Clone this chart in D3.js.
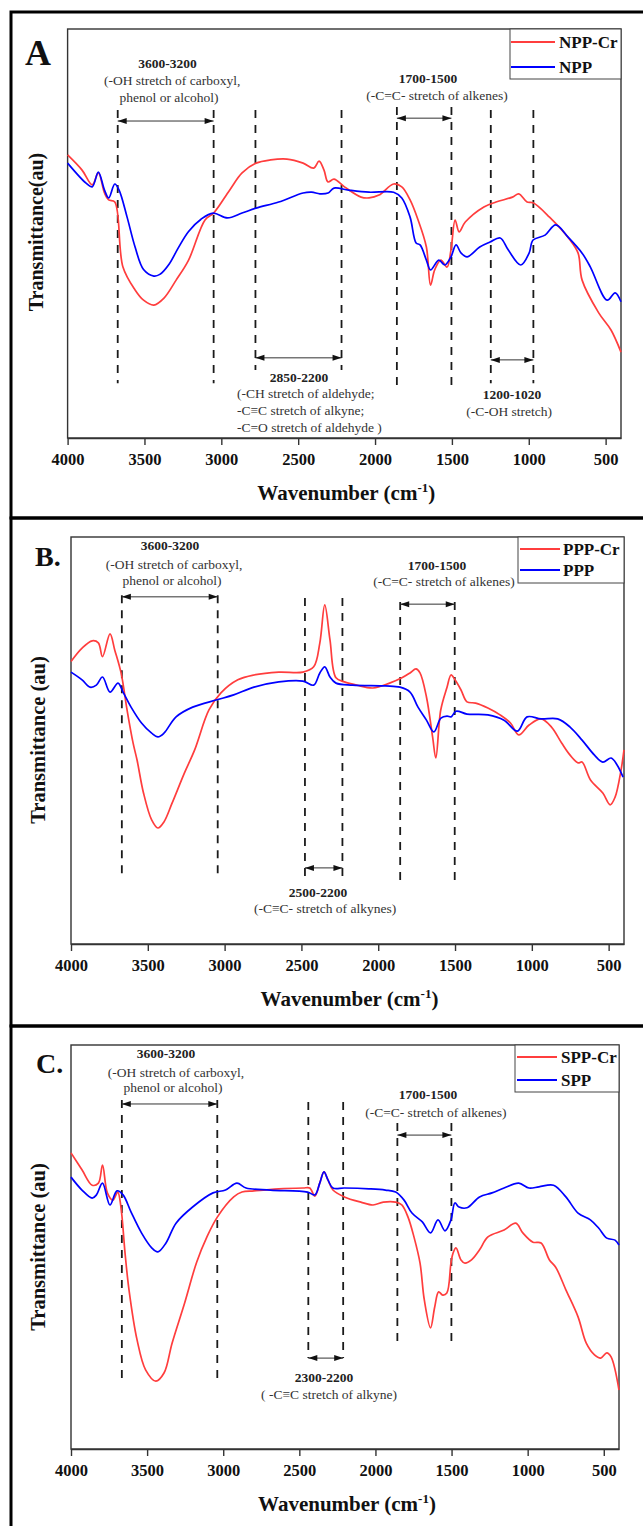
<!DOCTYPE html>
<html>
<head>
<meta charset="utf-8">
<script src="https://cdn.jsdelivr.net/npm/d3@7"></script>
<style>
  body { margin: 0; background: #fff; }
  text { font-family: "Liberation Serif", "Times New Roman", serif; }
</style>
</head>
<body>
<div class="main_area"></div>
<script>
// ---- data (wavenumber cm-1, transmittance in arbitrary units 0-100) ----
const wnTicks = [4000, 3500, 3000, 2500, 2000, 1500, 1000, 500];

const nppCr = [[4000,69.2],[3906,65.5],[3840,61.9],[3800,64.8],[3760,59.9],[3733,58.2],[3693,57.7],[3640,41.8],[3561,36.2],[3506,33.7],[3439,32.5],[3373,34.2],[3294,38.6],[3213,43.5],[3106,53.3],[3050,55.0],[2946,60.6],[2865,64.8],[2774,67.2],[2679,68.0],[2573,68.2],[2468,67.2],[2399,66.0],[2364,67.7],[2332,65.5],[2306,62.6],[2267,63.3],[2199,61.4],[2091,58.9],[2039,58.7],[1974,59.4],[1879,62.1],[1826,61.4],[1772,58.2],[1720,53.3],[1666,46.7],[1639,37.4],[1612,41.1],[1572,43.5],[1532,41.8],[1506,46.0],[1479,53.3],[1453,50.4],[1413,52.8],[1292,56.5],[1213,57.7],[1106,58.9],[1065,59.7],[1011,57.7],[972,57.5],[865,54.0],[731,48.4],[679,45.2],[653,38.6],[545,30.6],[465,26.4],[400,21.0]];
const npp = [[4000,67.2],[3880,62.3],[3840,61.4],[3800,65.0],[3760,60.6],[3733,58.7],[3693,62.1],[3665,60.6],[3613,54.0],[3561,46.7],[3506,41.2],[3439,39.6],[3400,40.0],[3340,42.5],[3280,46.5],[3213,50.5],[3132,53.5],[3053,55.0],[2960,53.8],[2865,55.0],[2774,56.2],[2627,57.7],[2468,59.9],[2412,60.1],[2359,59.7],[2306,59.9],[2267,61.1],[2172,60.6],[2039,60.1],[1879,60.1],[1826,58.7],[1772,54.0],[1733,47.7],[1707,47.2],[1666,43.5],[1639,41.1],[1585,43.5],[1546,42.3],[1506,44.3],[1473,47.2],[1440,45.2],[1401,44.3],[1319,46.7],[1252,47.9],[1186,48.9],[1134,46.0],[1052,42.3],[998,45.2],[972,48.4],[894,49.6],[825,52.1],[744,49.1],[653,45.2],[599,41.8],[490,33.7],[438,35.5],[400,33.3]];

const pppCr = [[4000,69.4],[3928,72.7],[3862,74.5],[3822,74.0],[3795,70.6],[3746,76.2],[3715,72.2],[3674,66.6],[3635,57.5],[3596,49.4],[3570,45.2],[3528,37.1],[3475,30.5],[3434,28.5],[3395,30.0],[3342,34.6],[3262,42.0],[3195,47.7],[3102,57.5],[3024,61.7],[2914,64.9],[2809,66.1],[2647,66.8],[2490,66.8],[2420,68.1],[2380,74.0],[2348,83.3],[2314,74.7],[2275,65.4],[2220,64.4],[2140,63.6],[2034,62.9],[1926,64.1],[1846,65.4],[1793,66.6],[1754,67.6],[1728,66.6],[1686,60.7],[1646,50.9],[1625,45.7],[1593,57.5],[1552,63.1],[1526,66.1],[1500,64.9],[1461,62.4],[1422,59.5],[1366,59.2],[1286,58.0],[1207,56.3],[1139,54.3],[1085,51.4],[1018,53.8],[940,55.3],[872,53.3],[806,49.4],[751,46.4],[699,44.5],[673,44.7],[618,40.3],[538,37.1],[490,34.2],[458,36.1],[419,42.8],[400,47.7]];
const ppp = [[4000,66.8],[3928,64.9],[3876,63.1],[3835,63.6],[3795,65.6],[3746,61.9],[3694,64.1],[3661,61.9],[3609,58.2],[3541,54.3],[3475,51.8],[3434,50.9],[3395,51.8],[3316,55.8],[3208,58.2],[3050,60.0],[2941,61.2],[2809,63.1],[2647,64.4],[2490,64.6],[2420,63.6],[2380,66.6],[2348,68.1],[2314,65.6],[2275,64.1],[2166,63.6],[1953,63.4],[1858,63.1],[1793,61.9],[1741,58.2],[1686,55.0],[1638,52.1],[1592,55.5],[1552,56.0],[1526,55.8],[1493,57.2],[1422,56.5],[1286,56.3],[1181,55.0],[1094,52.3],[1031,55.8],[940,55.3],[832,55.3],[751,53.3],[673,50.1],[592,46.4],[538,44.7],[484,45.7],[445,44.0],[406,41.0]];

const sppCr = [[4000,73.3],[3928,69.1],[3861,65.3],[3820,65.8],[3793,70.3],[3761,63.4],[3725,61.6],[3693,63.6],[3672,59.9],[3645,48.5],[3619,39.4],[3566,27.0],[3510,19.6],[3443,16.8],[3389,18.8],[3336,26.2],[3254,36.1],[3174,46.3],[3107,52.5],[3039,57.4],[2931,62.4],[2877,63.6],[2798,63.9],[2635,64.4],[2476,64.6],[2432,64.6],[2398,62.6],[2366,65.8],[2338,68.6],[2312,66.6],[2279,64.1],[2204,62.4],[2096,61.1],[2016,60.4],[1948,61.1],[1867,61.1],[1827,60.4],[1786,57.4],[1747,52.5],[1707,46.0],[1679,36.9],[1638,30.0],[1611,35.1],[1585,38.9],[1558,38.1],[1531,38.6],[1504,46.0],[1490,48.5],[1471,49.8],[1438,46.8],[1412,46.0],[1369,46.8],[1316,49.3],[1261,52.5],[1155,54.2],[1078,55.9],[1032,53.5],[965,51.2],[912,51.0],[857,46.8],[816,45.0],[749,39.4],[669,32.7],[615,26.2],[561,23.3],[520,22.5],[480,23.8],[452,22.8],[400,14.6]];
const spp = [[4000,67.3],[3928,64.1],[3861,62.1],[3833,62.9],[3793,65.8],[3744,60.4],[3698,63.9],[3658,62.9],[3606,58.7],[3537,53.5],[3470,49.8],[3429,48.8],[3376,51.0],[3310,55.9],[3201,59.9],[3067,63.4],[2985,64.1],[2910,65.8],[2850,64.6],[2689,64.1],[2446,63.6],[2398,62.9],[2366,65.8],[2338,68.6],[2312,66.6],[2279,64.6],[2204,64.6],[2042,64.4],[1935,64.1],[1867,63.6],[1812,61.6],[1760,58.4],[1692,56.2],[1638,53.5],[1589,56.7],[1543,54.0],[1504,56.7],[1478,60.9],[1451,59.9],[1399,59.7],[1316,62.4],[1234,63.4],[1155,64.6],[1059,65.8],[991,64.6],[926,64.9],[830,65.3],[749,62.4],[669,58.4],[588,56.7],[534,54.7],[480,52.2],[426,51.7],[400,50.5]];

const seriesNames = [["NPP-Cr", "NPP"], ["PPP-Cr", "PPP"], ["SPP-Cr", "SPP"]];
const seriesData = [[nppCr, npp], [pppCr, ppp], [sppCr, spp]];
const panelLetters = ["A", "B.", "C."];
const yTitles = ["Transmittance(au)", "Transmittance (au)", "Transmittance (au)"];

// ---- layout ----
const W = 643, H = 1526;
const colors = ["#ff3d3d", "#0000ff"];

const layouts = [
  {
    box: [12, 518], plot: {left: 67.6, right: 621, top: 29, bottom: 438},
    letter: {x: 25, y: 65, size: 36}, yTitle: {x: 43, y: 232, size: 20},
    legend: {x0: 510, x1: 621, y0: 29, y1: 79, lx0: 511, lx1: 555, tx: 559, ly: [42, 67]},
    dashes: [[3674, 80.2, 13.4], [3050, 80.2, 13.4], [2778, 80.2, 16.6], [2218, 80.2, 16.6],
             [1858, 80.9, 11.7], [1503, 80.9, 11.7], [1247, 80.2, 13.4], [970, 80.2, 13.4]],
    arrows: [[3674, 3050, 77.5], [1858, 1503, 78.2], [2778, 2218, 19.6], [1247, 970, 19.1]],
    notes: [
      ["3600-3200", 3350, 90.5, true, "middle"],
      ["(-OH stretch of carboxyl,", 3320, 86.3, false, "middle"],
      ["phenol or alcohol)", 3340, 82.2, false, "middle"],
      ["1700-1500", 1655, 86.8, true, "middle"],
      ["(-C=C- stretch of alkenes)", 1597, 82.6, false, "middle"],
      ["2850-2200", 2494, 13.7, true, "middle"],
      ["(-CH stretch of aldehyde;", 2898, 9.8, false, "start"],
      ["-C\u2261C stretch of alkyne;", 2898, 5.6, false, "start"],
      ["-C=O stretch of aldehyde )", 2898, 1.5, false, "start"],
      ["1200-1020", 1109, 9.5, true, "middle"],
      ["(-C-OH stretch)", 1128, 5.4, false, "middle"]
    ]
  },
  {
    box: [518, 1026], plot: {left: 71, right: 624, top: 537, bottom: 944},
    letter: {x: 35, y: 566, size: 28}, yTitle: {x: 45, y: 740, size: 20.5},
    legend: {x0: 518, x1: 624, y0: 537, y1: 583, lx0: 520, lx1: 560, tx: 563, ly: [549, 570]},
    dashes: [[3669, 85.7, 17.0], [3045, 85.7, 17.0], [2477, 85.0, 15.7], [2233, 85.0, 15.7],
             [1857, 84.0, 15.2], [1502, 84.0, 15.2]],
    arrows: [[3669, 3045, 85.3], [1857, 1502, 83.5], [2477, 2233, 18.7]],
    notes: [
      ["3600-3200", 3356, 96.8, true, "middle"],
      ["(-OH stretch of carboxyl,", 3329, 92.1, false, "middle"],
      ["phenol or alcohol)", 3342, 88.2, false, "middle"],
      ["1700-1500", 1617, 91.9, true, "middle"],
      ["(-C=C- stretch of alkenes)", 1572, 88.0, false, "middle"],
      ["2500-2200", 2392, 11.5, true, "middle"],
      ["(-C\u2261C- stretch of alkynes)", 2346, 7.6, false, "middle"]
    ]
  },
  {
    box: [1026, 1560], plot: {left: 71, right: 619, top: 1045, bottom: 1449},
    letter: {x: 36, y: 1073, size: 28}, yTitle: {x: 45, y: 1247, size: 20.5},
    legend: {x0: 515, x1: 619, y0: 1045, y1: 1092, lx0: 517, lx1: 557, tx: 561, ly: [1057, 1080]},
    dashes: [[3666, 86.4, 17.1], [3039, 86.4, 17.1], [2441, 85.9, 22.5], [2212, 85.9, 22.5],
             [1856, 80.7, 25.0], [1501, 80.7, 25.0]],
    arrows: [[3666, 3039, 85.4], [1856, 1501, 77.7], [2441, 2212, 22.5]],
    notes: [
      ["3600-3200", 3376, 96.8, true, "middle"],
      ["(-OH stretch of carboxyl,", 3310, 92.1, false, "middle"],
      ["phenol or alcohol)", 3330, 88.4, false, "middle"],
      ["1700-1500", 1655, 86.6, true, "middle"],
      ["(-C=C- stretch of alkenes)", 1603, 82.2, false, "middle"],
      ["2300-2200", 2338, 16.6, true, "middle"],
      ["( -C\u2261C stretch of alkyne)", 2305, 12.4, false, "middle"]
    ]
  }
];

const svg = d3.select(".main_area")
  .append("svg")
  .attr("width", W)
  .attr("height", H);

svg.append("rect").attr("width", W).attr("height", H).attr("fill", "#fff");

layouts.forEach(function(cfg, i) {
  drawPanel(cfg, i);
});

function drawPanel(cfg, i) {
  const p = cfg.plot;
  const g = svg.append("g");

  // outer panel frame
  g.append("rect")
    .attr("x", 11).attr("y", cfg.box[0])
    .attr("width", 700).attr("height", cfg.box[1] - cfg.box[0])
    .attr("fill", "none")
    .attr("stroke", "#000")
    .attr("stroke-width", 3);

  const x = d3.scaleLinear().domain([4000, 400]).range([p.left, p.right]);
  const y = d3.scaleLinear().domain([0, 100]).range([p.bottom, p.top]);

  // plot frame
  g.append("rect")
    .attr("x", p.left).attr("y", p.top)
    .attr("width", p.right - p.left).attr("height", p.bottom - p.top)
    .attr("fill", "none")
    .attr("stroke", "#333")
    .attr("stroke-width", 1.4);

  // x axis
  const xAxis = d3.axisBottom(x)
    .tickValues(wnTicks)
    .tickSize(7)
    .tickSizeOuter(0)
    .tickPadding(8)
    .tickFormat(d3.format("d"));

  const ax = g.append("g")
    .attr("transform", "translate(0," + p.bottom + ")")
    .call(xAxis);
  ax.select(".domain").attr("stroke", "#333").attr("stroke-width", 1.4);
  ax.selectAll(".tick line").attr("stroke", "#333").attr("stroke-width", 1.4);
  ax.selectAll("text")
    .attr("fill", "#111")
    .style("font-family", "'Liberation Serif', serif")
    .style("font-size", "16.5px")
    .style("font-weight", "bold");

  // x title
  const xt = g.append("text")
    .attr("x", (p.left + p.right) / 2 + 2)
    .attr("y", p.bottom + 62)
    .attr("text-anchor", "middle")
    .attr("font-size", 21)
    .attr("font-weight", "bold")
    .attr("fill", "#111");
  xt.append("tspan").text("Wavenumber (cm");
  xt.append("tspan").attr("dy", -8).attr("font-size", 13).text("-1");
  xt.append("tspan").attr("dy", 8).text(")");

  // y title
  g.append("text")
    .attr("transform", "translate(" + cfg.yTitle.x + "," + cfg.yTitle.y + ") rotate(-90)")
    .attr("text-anchor", "middle")
    .attr("font-size", cfg.yTitle.size)
    .attr("font-weight", "bold")
    .attr("fill", "#111")
    .text(yTitles[i]);

  // panel letter
  g.append("text")
    .attr("x", cfg.letter.x)
    .attr("y", cfg.letter.y)
    .attr("font-size", cfg.letter.size)
    .attr("font-weight", "bold")
    .attr("fill", "#111")
    .text(panelLetters[i]);

  // dashed guide lines
  g.append("g").selectAll("line")
    .data(cfg.dashes)
    .enter().append("line")
      .attr("x1", d => x(d[0])).attr("x2", d => x(d[0]))
      .attr("y1", d => y(d[1])).attr("y2", d => y(d[2]))
      .attr("stroke", "#1a1a1a")
      .attr("stroke-width", 1.8)
      .attr("stroke-dasharray", "8,7");

  // double arrows
  const arr = g.append("g");
  cfg.arrows.forEach(function(a) {
    const x1 = x(a[0]), x2 = x(a[1]), yy = y(a[2]);
    arr.append("line")
      .attr("x1", x1).attr("x2", x2).attr("y1", yy).attr("y2", yy)
      .attr("stroke", "#333").attr("stroke-width", 1);
    arr.append("path")
      .attr("d", "M" + x1 + "," + yy + "L" + (x1 + 9) + "," + (yy - 3) + "L" + (x1 + 9) + "," + (yy + 3) + "Z")
      .attr("fill", "#111");
    arr.append("path")
      .attr("d", "M" + x2 + "," + yy + "L" + (x2 - 9) + "," + (yy - 3) + "L" + (x2 - 9) + "," + (yy + 3) + "Z")
      .attr("fill", "#111");
  });

  // band labels
  g.append("g").selectAll("text")
    .data(cfg.notes)
    .enter().append("text")
      .attr("x", d => x(d[1]))
      .attr("y", d => y(d[2]))
      .attr("text-anchor", d => d[4])
      .attr("font-size", 13.5)
      .attr("font-weight", d => d[3] ? "bold" : "normal")
      .attr("fill", d => d[3] ? "#222" : "#333")
      .text(d => d[0]);

  // spectra
  const line = d3.line()
    .x(d => x(d[0]))
    .y(d => y(d[1]))
    .curve(d3.curveCatmullRom.alpha(0.5));

  seriesData[i].forEach(function(s, k) {
    g.append("path")
      .datum(s)
      .attr("d", line)
      .attr("fill", "none")
      .attr("stroke", colors[k])
      .attr("stroke-width", 1.7)
      .attr("stroke-linejoin", "round");
  });

  // legend
  const L = cfg.legend;
  g.append("rect")
    .attr("x", L.x0).attr("y", L.y0)
    .attr("width", L.x1 - L.x0).attr("height", L.y1 - L.y0)
    .attr("fill", "#fff")
    .attr("stroke", "#444")
    .attr("stroke-width", 1);
  seriesNames[i].forEach(function(name, k) {
    g.append("line")
      .attr("x1", L.lx0).attr("x2", L.lx1)
      .attr("y1", L.ly[k]).attr("y2", L.ly[k])
      .attr("stroke", colors[k]).attr("stroke-width", 1.8);
    g.append("text")
      .attr("x", L.tx).attr("y", L.ly[k] + 6)
      .attr("font-size", 17)
      .attr("font-weight", "bold")
      .attr("fill", "#111")
      .text(name);
  });
}
</script>
</body>
</html>
